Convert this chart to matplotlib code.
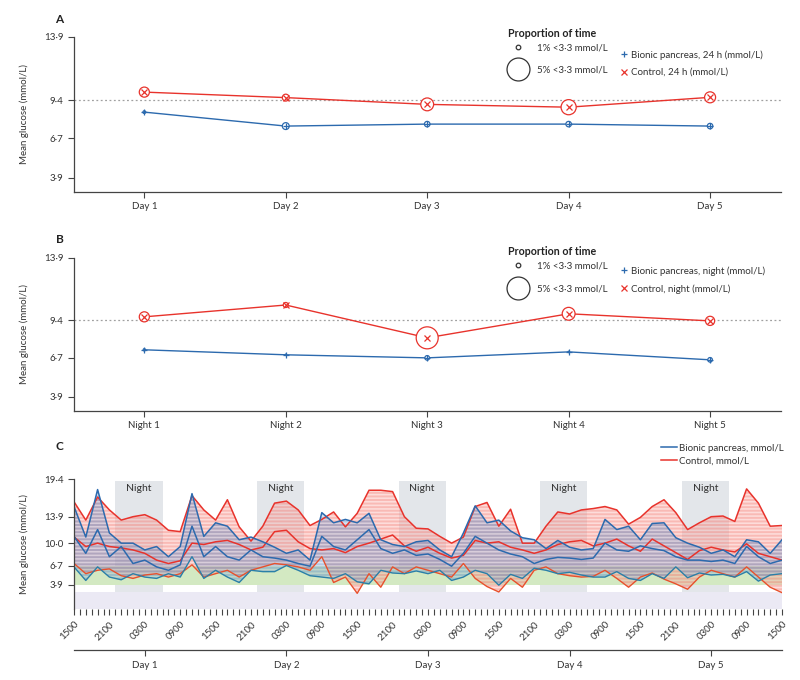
import matplotlib
matplotlib.use("Agg")
import matplotlib.pyplot as plt
import numpy as np
from matplotlib.lines import Line2D

plt.rcParams['font.family'] = ['Lato', 'DejaVu Sans']
plt.rcParams['hatch.linewidth'] = 0.45

RED = '#e8332c'
BLUE = '#2c6aae'
GREY = '#444444'

# panel A: 24 h means and % time <3.3
days = ["Day 1", "Day 2", "Day 3", "Day 4", "Day 5"]
ctrl_24h = [9.97, 9.58, 9.1, 8.9, 9.6]
ctrl_24h_hypo = [2.2, 1.5, 2.8, 3.3, 2.4]
bp_24h = [8.55, 7.56, 7.7, 7.7, 7.56]
bp_24h_hypo = [0.6, 1.5, 1.2, 1.2, 1.2]

# panel B: night means
nights = ["Night 1", "Night 2", "Night 3", "Night 4", "Night 5"]
ctrl_night = [9.65, 10.5, 8.14, 9.87, 9.36]
ctrl_night_hypo = [2.2, 1.1, 4.8, 2.8, 2.0]
bp_night = [7.28, 6.92, 6.7, 7.13, 6.56]
bp_night_hypo = [0.5, 0.3, 1.0, 0.3, 1.0]

# panel C: glucose traces every 2 h from 1500 on the first day
hours = np.arange(0, 121, 2)
ctrl_q3 = [16.1, 13.4, 16.8, 14.9, 13.4, 13.9, 14.2, 13.4, 11.9, 11.7, 17.0, 14.9, 13.4, 16.4, 12.4,
           10.3, 12.5, 15.9, 16.2, 14.9, 12.6, 13.5, 14.6, 12.4, 14.4, 17.8, 17.8, 17.6, 13.9, 12.2,
           12.1, 11.0, 10.0, 10.9, 15.4, 16.0, 12.5, 15.0, 10.0, 10.0, 12.5, 14.6, 14.3, 14.9, 15.1,
           15.4, 14.9, 12.8, 13.8, 15.4, 16.4, 14.5, 12.0, 13.0, 13.9, 14.0, 13.2, 18.0, 15.9, 12.5, 12.6]
ctrl_med = [10.9, 9.5, 10.0, 9.5, 9.3, 9.0, 8.5, 7.5, 7.0, 7.4, 10.0, 9.8, 10.2, 10.4, 9.8,
            9.0, 9.4, 11.7, 11.9, 10.2, 9.2, 9.0, 9.2, 8.6, 9.5, 10.0, 10.6, 11.2, 9.6, 8.8,
            9.4, 8.5, 7.8, 8.2, 10.4, 10.0, 10.2, 9.4, 9.0, 8.5, 9.0, 9.8, 10.2, 10.4, 9.6,
            10.0, 10.6, 9.6, 8.8, 10.6, 9.6, 8.6, 7.6, 8.9, 9.4, 9.0, 8.7, 9.9, 8.5, 8.0, 7.5]
ctrl_q1 = [7.0, 5.5, 6.0, 6.2, 5.2, 4.8, 5.3, 5.5, 5.0, 5.5, 6.8, 5.0, 5.5, 6.0, 5.0,
           6.0, 6.5, 7.0, 6.8, 6.5, 6.0, 8.0, 4.2, 5.0, 2.6, 5.5, 3.5, 6.5, 5.5, 6.5,
           6.0, 5.5, 5.0, 7.0, 4.8, 3.6, 2.8, 4.8, 3.5, 6.0, 6.5, 5.5, 5.2, 5.0, 5.1,
           6.0, 4.8, 3.5, 5.0, 5.6, 4.7, 4.0, 3.2, 5.0, 6.0, 5.5, 5.0, 6.5, 5.0, 3.5, 2.7]
bp_q3 = [15.4, 10.9, 17.9, 11.5, 10.0, 10.0, 9.0, 9.5, 8.0, 9.5, 17.3, 11.0, 13.0, 12.5, 10.5,
         10.9, 10.2, 9.4, 8.5, 9.0, 7.5, 14.5, 13.0, 13.5, 13.0, 14.4, 10.5, 9.8, 9.5, 10.2,
         10.4, 9.0, 8.0, 11.5, 15.5, 13.0, 13.4, 11.8, 10.8, 10.5, 9.2, 10.4, 9.4, 9.0, 9.2,
         13.5, 12.0, 12.5, 10.5, 12.9, 13.0, 10.8, 10.0, 9.4, 8.5, 9.0, 8.0, 10.5, 10.2, 8.5, 10.5]
bp_med = [11.0, 8.5, 12.0, 8.0, 9.5, 7.0, 7.5, 6.5, 6.0, 6.8, 12.5, 8.0, 9.5, 8.0, 7.5,
          9.0, 8.0, 7.8, 7.5, 7.0, 6.6, 11.0, 9.5, 9.0, 10.5, 12.0, 9.2, 8.5, 9.0, 8.2,
          8.4, 7.6, 6.6, 8.5, 11.0, 10.0, 9.0, 8.4, 8.0, 7.0, 7.6, 7.9, 7.8, 7.6, 7.8,
          10.0, 9.0, 8.8, 9.6, 9.2, 8.9, 8.0, 7.5, 7.5, 7.3, 7.5, 7.0, 9.5, 8.0, 7.0, 7.5]
bp_q1 = [6.5, 4.5, 6.5, 5.0, 4.6, 5.5, 5.0, 4.8, 5.5, 5.0, 8.0, 4.8, 6.0, 5.0, 4.2,
         6.0, 5.8, 5.8, 6.7, 6.0, 5.2, 5.0, 4.8, 5.5, 4.3, 4.0, 6.0, 5.6, 5.5, 5.9,
         5.5, 6.0, 4.5, 5.0, 6.0, 5.5, 3.8, 5.4, 4.8, 6.3, 6.0, 5.5, 5.7, 5.3, 5.0,
         5.0, 5.8, 4.8, 4.5, 5.5, 4.8, 6.5, 4.9, 5.6, 5.3, 5.4, 5.0, 5.8, 4.4, 5.3, 5.5]

clock_labels = ["1500", "2100", "0300", "0900"] * 5 + ["1500"]
night_start = [7, 31, 55, 79, 103]
night_len = 8
day_hours = [12, 36, 60, 84, 108]

glucose_ticks_ab = [3.9, 6.7, 9.4, 13.9]
glucose_ticks_c = [3.9, 6.7, 10.0, 13.9, 19.4]


def fmt(v):
    return ('%.1f' % v).replace('.', '\u00b7')


def style_axes(ax, ticks):
    for s in ['top', 'right']:
        ax.spines[s].set_visible(False)
    for s in ['left', 'bottom']:
        ax.spines[s].set_color(GREY)
        ax.spines[s].set_linewidth(0.9)
    ax.set_yticks(ticks)
    ax.set_yticklabels([fmt(t) for t in ticks])
    ax.tick_params(colors=GREY, labelcolor='#333333', labelsize=7, length=4, width=0.8)
    ax.set_ylabel('Mean glucose (mmol/L)', fontsize=7, color='#333333')
    ax.yaxis.set_label_coords(-0.063, 0.5)


def size(p):
    return (3.3 * p) ** 2


fig = plt.figure(figsize=(8, 6.8), dpi=100)

panels = [
    ([0.092, 0.718, 0.884, 0.228], 'A', days, ctrl_24h, ctrl_24h_hypo, bp_24h, bp_24h_hypo,
     'Bionic pancreas, 24 h (mmol/L)', 'Control, 24 h (mmol/L)', 1.11, 1.022, 0.959, 0.945),
    ([0.092, 0.396, 0.884, 0.225], 'B', nights, ctrl_night, ctrl_night_hypo, bp_night, bp_night_hypo,
     'Bionic pancreas, night (mmol/L)', 'Control, night (mmol/L)', 1.12, 1.041, 0.974, 0.976),
]

for rect, letter, cats, cy, ch, by, bh, blab, clab, ty, tty, l1y, l2y in panels:
    ax = fig.add_axes(rect)
    x = np.arange(1, len(cats) + 1)
    ax.axhline(9.4, color='#a0a0a0', ls=(0, (1.5, 2)), lw=0.9, zorder=1)
    ax.plot(x, by, color=BLUE, lw=1.0, zorder=2)
    ax.plot(x, cy, color=RED, lw=1.0, zorder=2)
    ax.scatter(x, by, s=[size(p) for p in bh], facecolors='white', edgecolors=BLUE, linewidths=0.9, zorder=3)
    ax.scatter(x, cy, s=[size(p) for p in ch], facecolors='white', edgecolors=RED, linewidths=0.9, zorder=3)
    ax.plot(x, by, ls='none', marker='+', ms=5, mew=0.9, color=BLUE, zorder=4)
    ax.plot(x, cy, ls='none', marker='x', ms=4, mew=0.9, color=RED, zorder=4)
    ax.set_xlim(0.5, 5.5)
    ax.set_ylim(2.9, 13.9)
    ax.set_xticks(x)
    ax.set_xticklabels(cats)
    style_axes(ax, glucose_ticks_ab)
    ax.spines['left'].set_bounds(2.9, 13.9)
    ax.text(-0.02, ty, letter, transform=ax.transAxes, fontsize=8.5, fontweight='bold',
            color='#222222', ha='center', va='center')

    ax.text(0.614, tty, 'Proportion of time', transform=ax.transAxes, fontsize=7.7,
            fontweight='bold', color='#222222', ha='left', va='center')
    h1 = [Line2D([], [], ls='none', marker='o', ms=3.3 * 1, mfc='none', mec='#333333', mew=0.9),
          Line2D([], [], ls='none', marker='o', ms=3.3 * 5, mfc='none', mec='#333333', mew=0.9)]
    leg1 = ax.legend(h1, ['1% <3\u00b73 mmol/L', '5% <3\u00b73 mmol/L'],
                     loc='upper left', bbox_to_anchor=(0.614, l1y), frameon=False, fontsize=7,
                     handletextpad=1.0, labelspacing=1.37, borderpad=0, borderaxespad=0,
                     labelcolor='#333333')
    ax.add_artist(leg1)
    h2 = [Line2D([], [], ls='none', marker='+', ms=5, mew=0.9, color=BLUE),
          Line2D([], [], ls='none', marker='x', ms=4, mew=0.9, color=RED)]
    ax.legend(h2, [blab, clab], loc='upper left', bbox_to_anchor=(0.765, l2y), frameon=False,
              fontsize=7, handletextpad=0.2, handlelength=1.0, labelspacing=0.85, borderpad=0,
              labelcolor='#333333')

# panel C
axc = fig.add_axes([0.0925, 0.104, 0.885, 0.193])
axc.set_xlim(0, 120)
axc.set_ylim(0.25, 19.6)
axc.axhspan(0.25, 2.8, color='#ebe9f4', lw=0, zorder=0)
for ns in night_start:
    axc.fill_between([ns, ns + night_len], 2.8, 19.2, color='#e3e6ea', lw=0, zorder=0.5)
    axc.text(ns + night_len / 2, 18.0, 'Night', ha='center', va='center', fontsize=7.5, color='#333333')
axc.axhspan(3.9, 6.7, color='#d3e9c2', lw=0, zorder=0.8)

axc.fill_between(hours, ctrl_q1, ctrl_q3, facecolor=(1.0, 0.85, 0.84, 0.35),
                 edgecolor=(0.94, 0.32, 0.28, 0.55), hatch='-' * 12, lw=0, zorder=1)
axc.fill_between(hours, bp_q1, bp_q3, facecolor=(0.8, 0.85, 0.95, 0.25),
                 edgecolor=(0.17, 0.42, 0.70, 0.5), hatch='-' * 12, lw=0, zorder=1.1)
axc.plot(hours, ctrl_q3, color=RED, lw=1.1, zorder=2)
axc.plot(hours, ctrl_med, color=RED, lw=1.1, zorder=2)
axc.plot(hours, ctrl_q1, color='#e8502c', lw=1.0, zorder=2)
axc.plot(hours, bp_q3, color=BLUE, lw=1.1, zorder=2.1)
axc.plot(hours, bp_med, color=BLUE, lw=1.1, zorder=2.1)
axc.plot(hours, bp_q1, color='#2a7fa8', lw=1.0, zorder=2.1)

style_axes(axc, glucose_ticks_c)
axc.spines['left'].set_bounds(0.25, 19.4)
axc.spines['bottom'].set_visible(False)
axc.set_xticks(np.arange(0, 121, 1))
axc.set_xticklabels([clock_labels[i // 6] if i % 6 == 0 else '' for i in range(121)],
                    rotation=45, ha='right', rotation_mode='anchor', fontsize=7)
axc.tick_params(axis='x', length=4)
axc.text(-0.02, 1.237, 'C', transform=axc.transAxes, fontsize=8.5, fontweight='bold',
         color='#222222', ha='center', va='center')
axc.legend([Line2D([], [], color=BLUE, lw=1.1), Line2D([], [], color=RED, lw=1.1)],
           ['Bionic pancreas, mmol/L', 'Control, mmol/L'], loc='upper right',
           bbox_to_anchor=(1.01, 1.3), frameon=False, fontsize=7, handlelength=1.6,
           handletextpad=0.3, labelspacing=0.4, borderpad=0, labelcolor='#333333')

sec = axc.secondary_xaxis(-0.313)
sec.set_xticks(day_hours)
sec.set_xticklabels(days, fontsize=7, color='#333333')
sec.spines['bottom'].set_color(GREY)
sec.spines['bottom'].set_linewidth(0.9)
sec.tick_params(colors=GREY, labelcolor='#333333', length=4, width=0.8)

fig.savefig('out.png', dpi=100)
